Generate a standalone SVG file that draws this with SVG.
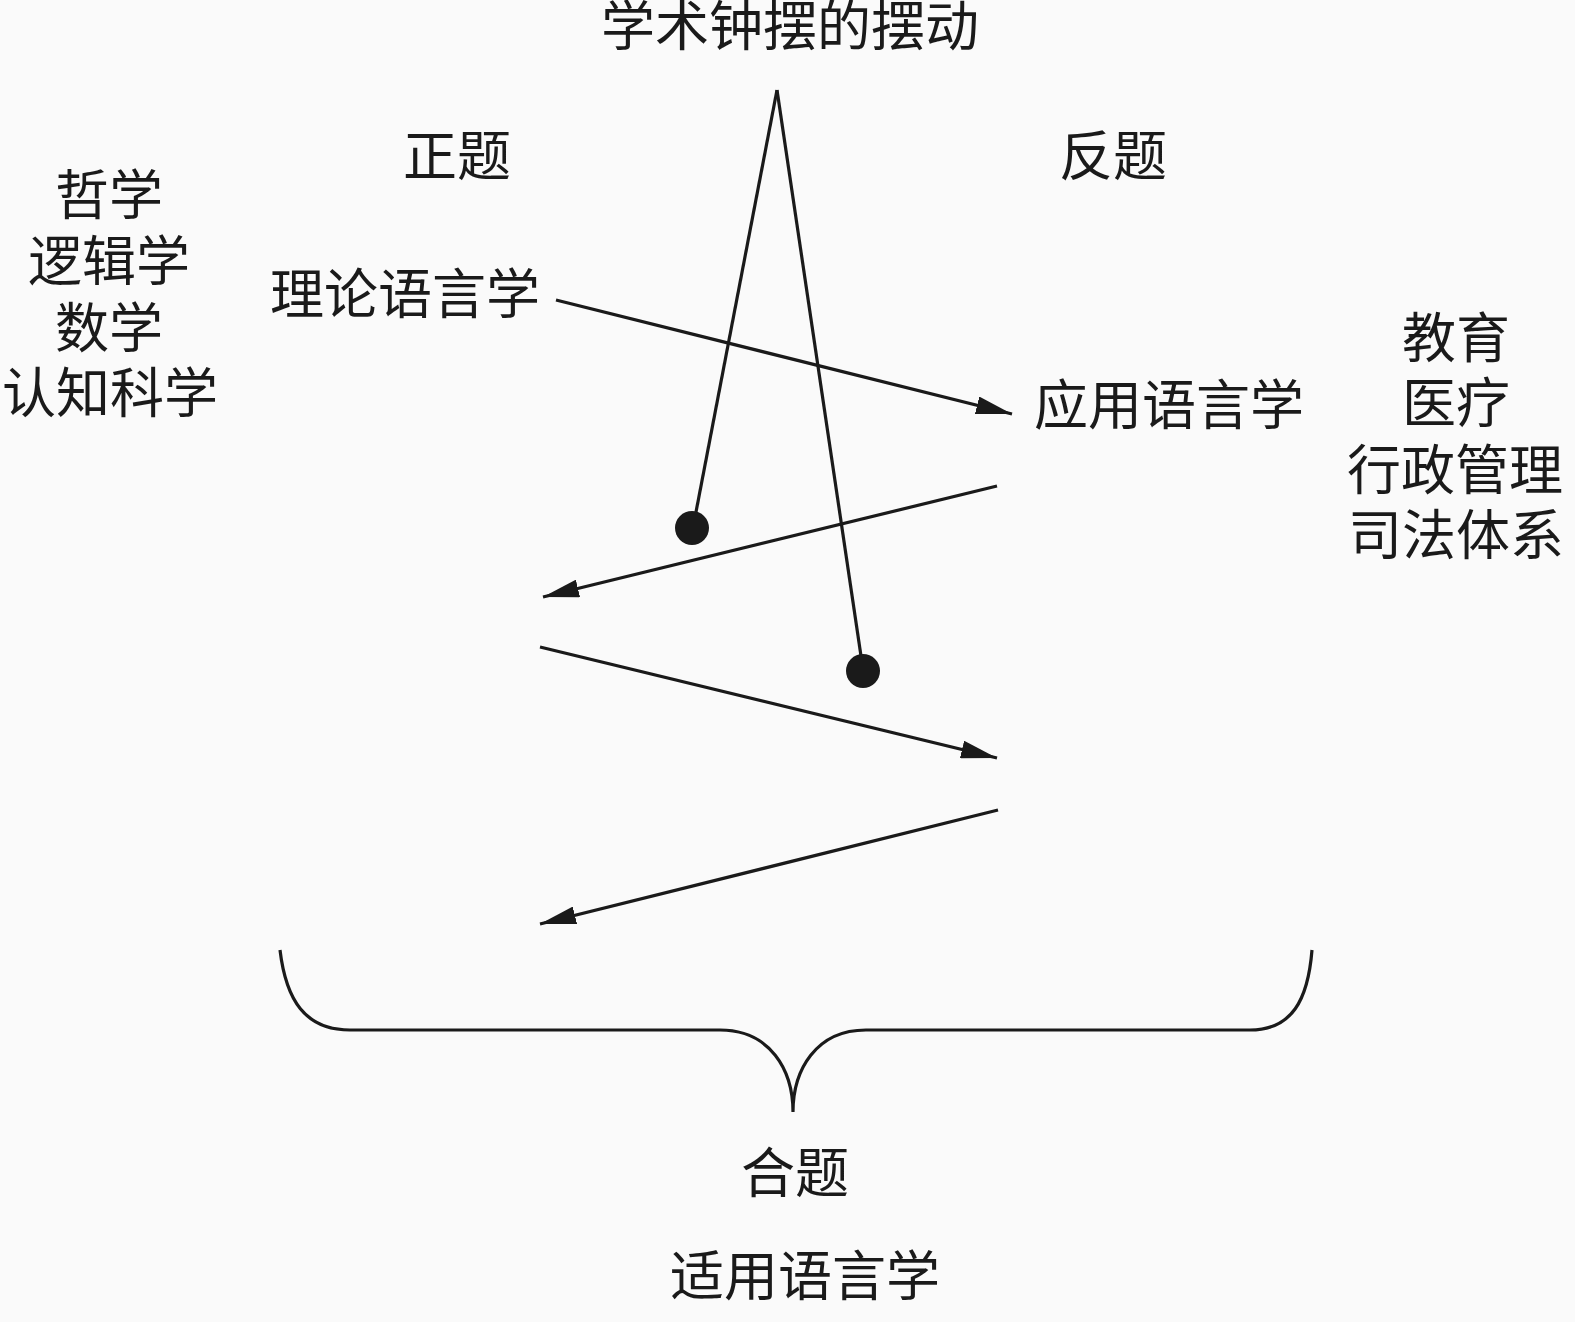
<svg xmlns="http://www.w3.org/2000/svg" width="1575" height="1322" viewBox="0 0 1575 1322">
<style>
text{font-family:"Liberation Serif","Noto Sans CJK SC",serif;font-size:54px;fill:#1a1a1a;text-anchor:middle;dominant-baseline:central}
.ln{stroke:#1a1a1a;stroke-width:3.2;fill:none}
.dot{fill:#1a1a1a}
</style>
<defs>
<marker id="ah" viewBox="0 0 36 18" refX="36" refY="9" markerWidth="36" markerHeight="18" markerUnits="userSpaceOnUse" orient="auto">
<path d="M0,0 L36,9 L0,18 Z" fill="#1a1a1a"/>
</marker>
</defs>
<rect width="1575" height="1322" fill="#fafafa"/>
<g id="title"><text x="790" y="28">学术钟摆的摆动</text></g>
<g id="thesis"><text x="457" y="158">正题</text></g>
<g id="antithesis"><text x="1113" y="158">反题</text></g>
<g id="left-fields">
<text x="109" y="197">哲学</text>
<text x="109" y="263">逻辑学</text>
<text x="109" y="330">数学</text>
<text x="110" y="395">认知科学</text>
</g>
<g id="theoretical"><text x="405" y="296">理论语言学</text></g>
<g id="applied"><text x="1169" y="407">应用语言学</text></g>
<g id="right-fields">
<text x="1456" y="340">教育</text>
<text x="1456" y="405">医疗</text>
<text x="1455" y="472">行政管理</text>
<text x="1456" y="537">司法体系</text>
</g>
<g id="synthesis"><text x="795" y="1175">合题</text></g>
<g id="appropriate"><text x="805" y="1278">适用语言学</text></g>
<g id="pendulum">
<path class="ln" d="M777,90 L696,512"/>
<path class="ln" d="M777,90 L861,656"/>
<circle class="dot" cx="692" cy="528" r="17"/>
<circle class="dot" cx="863" cy="671" r="17"/>
</g>
<g id="connectors">
<path class="ln" d="M556,300 L1012,414" marker-end="url(#ah)"/>
<path class="ln" d="M997,486 L543,597" marker-end="url(#ah)"/>
<path class="ln" d="M540,647 L997,758" marker-end="url(#ah)"/>
<path class="ln" d="M998,810 L540,924" marker-end="url(#ah)"/>
</g>
<g id="brace">
<path class="ln" d="M280,950 C286,1000 305,1030 350,1030 L720,1030 C770,1030 793,1070 793,1112 C793,1070 816,1030 866,1030 L1250,1030 C1292,1030 1308,1000 1312,950"/>
</g>
</svg>
